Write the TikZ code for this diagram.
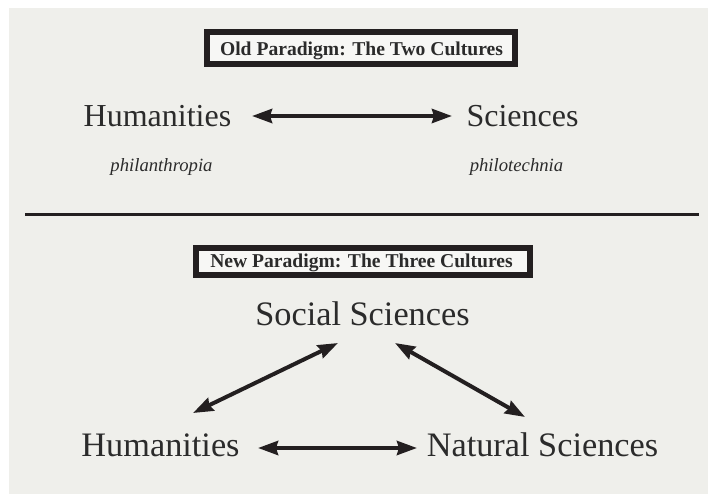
\documentclass[tikz,border=0pt]{standalone}
\usepackage{fontspec}
\setmainfont{Liberation Serif}
\usetikzlibrary{arrows.meta}
\definecolor{bg}{HTML}{EFEFEB}
\definecolor{ink}{HTML}{231F20}
\definecolor{txt}{HTML}{2B2B2B}
\definecolor{boxfill}{HTML}{F7F7F5}
\tikzset{
  bigA/.style={text=txt, inner sep=0pt, anchor=base, font=\fontsize{32}{36}\selectfont},
  bigB/.style={text=txt, inner sep=0pt, anchor=base, font=\fontsize{34.3}{38}\selectfont},
  ital/.style={text=txt, inner sep=0pt, anchor=base, font=\fontsize{18.7}{22}\selectfont\itshape},
  ttl/.style={text=txt, inner sep=0pt, anchor=base, font=\fontsize{19.6}{22}\selectfont\bfseries},
  framebox/.style={draw=ink, line width=6pt, fill=boxfill},
  arr/.style={draw=ink, line width=4pt, {Stealth[length=20pt,width=14pt,inset=2pt]}-{Stealth[length=20pt,width=14pt,inset=2pt]}},
  divider/.style={draw=ink, line width=3pt}
}
\begin{document}
\begin{tikzpicture}[x=1pt,y=-1pt]
\useasboundingbox (0,0) rectangle (708,494);
\fill[white] (0,0) rectangle (708,494);
\fill[bg] (9,8) rectangle (708,494);
% title boxes
\path[framebox] (207,32) rectangle (515,64);
\node[ttl] (t1) at (361.5,56) {Old Paradigm: The Two Cultures};
\path[framebox] (196,248) rectangle (530,275);
\node[ttl] (t2) at (361.5,267) {New Paradigm: The Three Cultures};
% old paradigm
\node[bigA] (hum1) at (157.5,127) {Humanities};
\node[bigA] (sci1) at (522.5,127) {Sciences};
\node[ital] (phan) at (161.5,172) {philanthropia};
\node[ital] (ptec) at (516.5,172) {philotechnia};
\draw[arr] ([shift={(94.5,-11)}]hum1.base) -- ([shift={(-70.5,-11)}]sci1.base);
% divider
\draw[divider] (25,214) -- (699,214);
% new paradigm
\node[bigB] (soc) at (362.5,325) {Social Sciences};
\node[bigB] (hum2) at (160.5,456) {Humanities};
\node[bigB] (nat) at (542.5,456) {Natural Sciences};
\draw[arr] ([shift={(32.5,-43)}]hum2.base) -- ([shift={(-24.5,18)}]soc.base);
\draw[arr] ([shift={(32.5,18)}]soc.base) -- ([shift={(-17.5,-39)}]nat.base);
\draw[arr] ([shift={(97.5,-8)}]hum2.base) -- ([shift={(-125.5,-8)}]nat.base);
\end{tikzpicture}
\end{document}
